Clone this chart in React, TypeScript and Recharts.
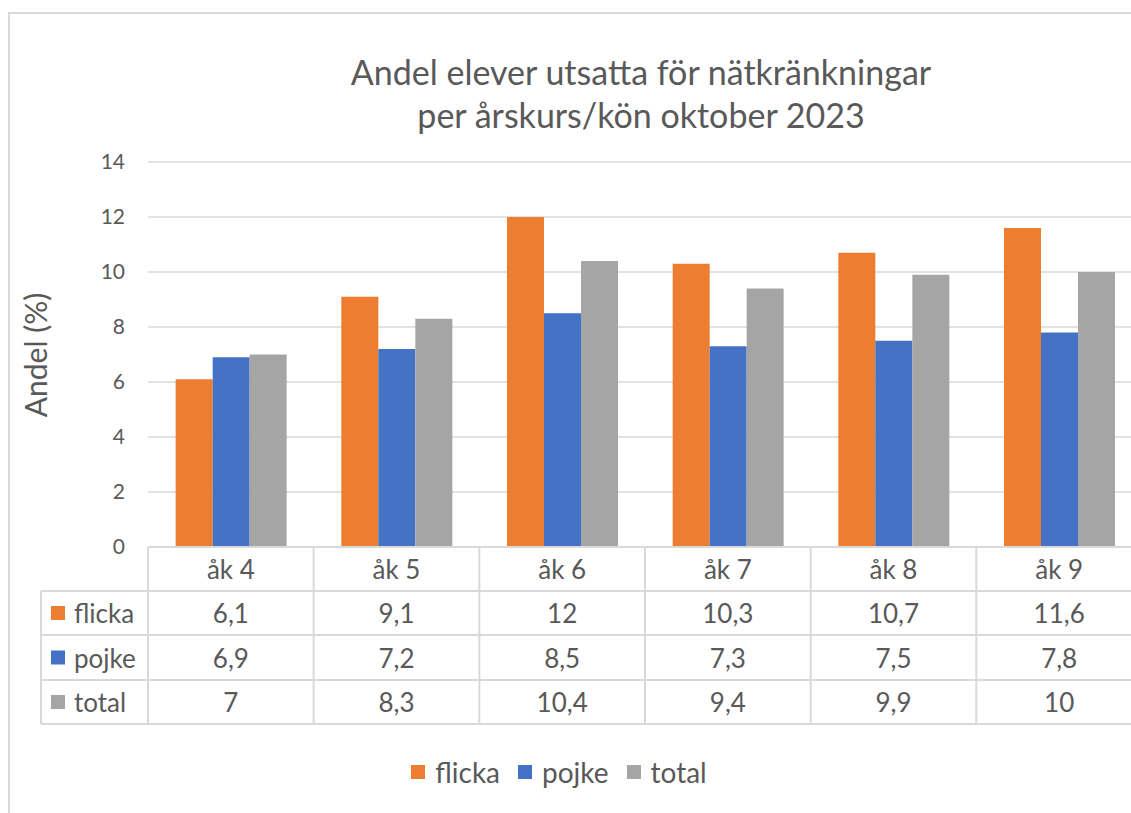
import { Bar, BarChart, CartesianGrid, XAxis, YAxis } from "recharts";

const categories = ["åk 4", "åk 5", "åk 6", "åk 7", "åk 8", "åk 9"];
const flicka = [6.1, 9.1, 12, 10.3, 10.7, 11.6];
const pojke = [6.9, 7.2, 8.5, 7.3, 7.5, 7.8];
const total = [7, 8.3, 10.4, 9.4, 9.9, 10];
const yTicks = [0, 2, 4, 6, 8, 10, 12, 14];

const seriesKeys = ["flicka", "pojke", "total"];
const seriesColors = ["#ED7D31", "#4472C4", "#A5A5A5"];
const seriesValues = [flicka, pojke, total];

const data = categories.map((c, i) => ({
  name: c,
  flicka: flicka[i],
  pojke: pojke[i],
  total: total[i],
}));

const FONT = "Lato, 'Open Sans', sans-serif";
const TEXT = "#595959";
const LINE = "#d9d9d9";

const CHART_W = 1160;
const CHART_H = 813;
const MARGIN = { top: 162, right: 18, bottom: 0, left: 0 };
const Y_AXIS_W = 148;
const X_AXIS_H = 266;
const PLOT_W = CHART_W - MARGIN.left - MARGIN.right - Y_AXIS_W;
const BAND = PLOT_W / categories.length;
const ROWS = [0, 44, 88, 133, 177];
const LEFT_COL_W = 107;

const fmt = (v: number) => String(v).replace(".", ",");

function TableTick(props: any) {
  const { x, y, payload, index } = props;
  const left = x - BAND / 2;
  const right = x + BAND / 2;
  const isLast = index === categories.length - 1;
  return (
    <g fontFamily={FONT} fill={TEXT}>
      <line x1={left} x2={left} y1={y} y2={y + ROWS[4]} stroke={LINE} strokeWidth={2} />
      {isLast && <line x1={right} x2={right} y1={y} y2={y + ROWS[4]} stroke={LINE} strokeWidth={2} />}
      {ROWS.slice(1).map((r) => (
        <line key={r} x1={left} x2={right} y1={y + r} y2={y + r} stroke={LINE} strokeWidth={2} />
      ))}
      <text x={x} y={y + 22} textAnchor="middle" dominantBaseline="central" fontSize={26}>
        {payload.value}
      </text>
      {seriesValues.map((vals, s) => (
        <text
          key={s}
          x={x}
          y={y + (ROWS[s + 1] + ROWS[s + 2]) / 2}
          textAnchor="middle"
          dominantBaseline="central"
          fontSize={26}
        >
          {fmt(vals[index])}
        </text>
      ))}
      {index === 0 && (
        <g>
          <line
            x1={left - LEFT_COL_W}
            x2={left - LEFT_COL_W}
            y1={y + ROWS[1]}
            y2={y + ROWS[4]}
            stroke={LINE}
            strokeWidth={2}
          />
          {ROWS.slice(1).map((r) => (
            <line
              key={r}
              x1={left - LEFT_COL_W}
              x2={left}
              y1={y + r}
              y2={y + r}
              stroke={LINE}
              strokeWidth={2}
            />
          ))}
          {seriesKeys.map((k, s) => {
            const cy = y + (ROWS[s + 1] + ROWS[s + 2]) / 2;
            return (
              <g key={k}>
                <rect x={left - LEFT_COL_W + 10} y={cy - 7} width={14} height={14} fill={seriesColors[s]} />
                <text x={left - LEFT_COL_W + 33} y={cy} dominantBaseline="central" fontSize={26}>
                  {k}
                </text>
              </g>
            );
          })}
        </g>
      )}
    </g>
  );
}

export default function App() {
  return (
    <div
      style={{
        position: "fixed",
        left: 0,
        top: 0,
        width: 1131,
        height: 813,
        overflow: "hidden",
        background: "#fff",
        fontFamily: FONT,
        color: TEXT,
      }}
    >
      <div
        style={{
          position: "absolute",
          left: 8,
          top: 12,
          width: 1300,
          height: 1000,
          border: `2px solid ${LINE}`,
        }}
      />
      <div
        style={{
          position: "absolute",
          left: 241,
          width: 800,
          top: 50,
          textAlign: "center",
          fontSize: 34,
          lineHeight: "43px",
        }}
      >
        Andel elever utsatta för nätkränkningar
        <br />
        per årskurs/kön oktober 2023
      </div>
      <div
        style={{
          position: "absolute",
          left: 35 - 100,
          top: 355 - 18,
          width: 200,
          height: 36,
          lineHeight: "36px",
          textAlign: "center",
          fontSize: 30,
          transform: "rotate(-90deg)",
        }}
      >
        Andel (%)
      </div>
      <div style={{ position: "absolute", left: 0, top: 0 }}>
        <BarChart
          width={CHART_W}
          height={CHART_H}
          data={data}
          margin={MARGIN}
          barCategoryGap="16.7%"
          barGap={0}
        >
          <CartesianGrid horizontal vertical={false} stroke={LINE} strokeWidth={1.5} />
          <XAxis
            dataKey="name"
            height={X_AXIS_H}
            axisLine={{ stroke: LINE, strokeWidth: 2 }}
            tickLine={false}
            tickSize={0}
            tickMargin={0}
            interval={0}
            tick={<TableTick />}
          />
          <YAxis
            width={Y_AXIS_W}
            domain={[0, 14]}
            ticks={yTicks}
            axisLine={false}
            tickLine={false}
            tickSize={0}
            tickMargin={23}
            tick={{ fill: TEXT, fontSize: 21, fontFamily: FONT }}
          />
          {seriesKeys.map((k, s) => (
            <Bar key={k} dataKey={k} fill={seriesColors[s]} isAnimationActive={false} />
          ))}
        </BarChart>
      </div>
      <div
        style={{
          position: "absolute",
          left: 0,
          width: 1118,
          top: 752,
          height: 40,
          display: "flex",
          justifyContent: "center",
          alignItems: "center",
          fontSize: 28,
        }}
      >
        {seriesKeys.map((k, s) => (
          <div key={k} style={{ display: "flex", alignItems: "center", margin: "0 9px" }}>
            <span
              style={{ display: "inline-block", width: 14, height: 14, background: seriesColors[s], marginRight: 10 }}
            />
            {k}
          </div>
        ))}
      </div>
    </div>
  );
}
